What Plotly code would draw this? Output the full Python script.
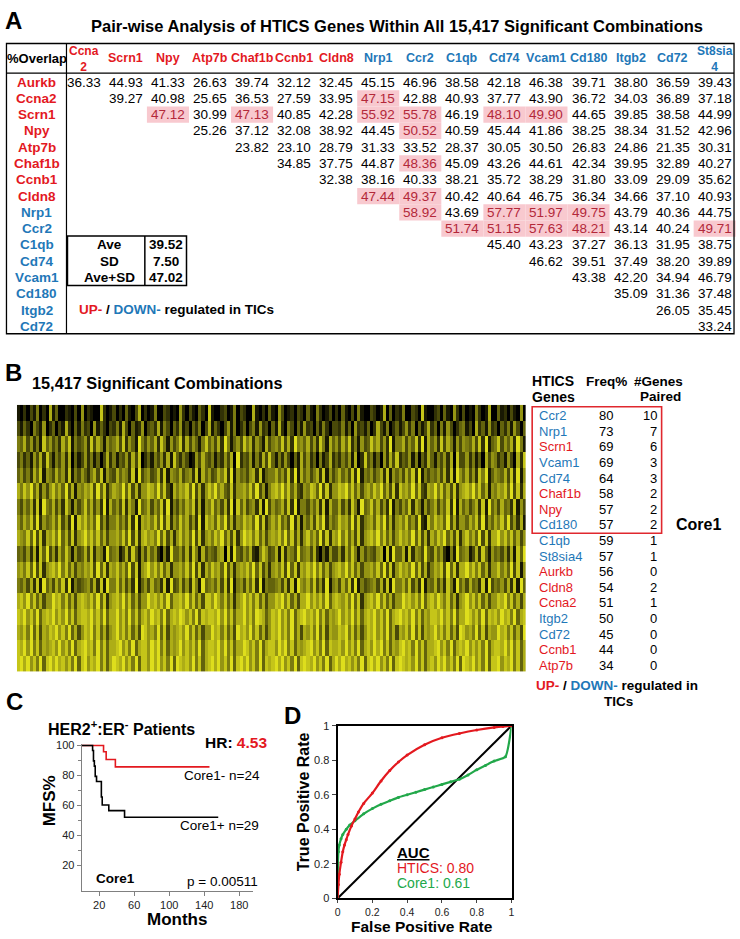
import plotly.graph_objects as go

W, H = 740, 939
FONT = "Arial, 'Liberation Sans', Helvetica, sans-serif"
RED = "#e3191f"
BLUE = "#1f78b8"
GREEN = "#22a84a"
HL_BG = "#f8c9cf"
HL_TXT = "#b3283a"

# ---------------- Panel A data ----------------
up_genes = ["Aurkb", "Ccna2", "Scrn1", "Npy", "Atp7b", "Chaf1b", "Ccnb1", "Cldn8"]
row_genes = ["Aurkb", "Ccna2", "Scrn1", "Npy", "Atp7b", "Chaf1b", "Ccnb1", "Cldn8",
             "Nrp1", "Ccr2", "C1qb", "Cd74", "Vcam1", "Cd180", "Itgb2", "Cd72"]
col_genes = ["Ccna2", "Scrn1", "Npy", "Atp7b", "Chaf1b", "Ccnb1", "Cldn8", "Nrp1",
             "Ccr2", "C1qb", "Cd74", "Vcam1", "Cd180", "Itgb2", "Cd72", "St8sia4"]
overlap_rows = [
    [36.33, 44.93, 41.33, 26.63, 39.74, 32.12, 32.45, 45.15, 46.96, 38.58, 42.18, 46.38, 39.71, 38.80, 36.59, 39.43],
    [39.27, 40.98, 25.65, 36.53, 27.59, 33.95, 47.15, 42.88, 40.93, 37.77, 43.90, 36.72, 34.03, 36.89, 37.18],
    [47.12, 30.99, 47.13, 40.85, 42.28, 55.92, 55.78, 46.19, 48.10, 49.90, 44.65, 39.85, 38.58, 44.99],
    [25.26, 37.12, 32.08, 38.92, 44.45, 50.52, 40.59, 45.44, 41.86, 38.25, 38.34, 31.52, 42.96],
    [23.82, 23.10, 28.79, 31.33, 33.52, 28.37, 30.05, 30.50, 26.83, 24.86, 21.35, 30.31],
    [34.85, 37.75, 44.87, 48.36, 45.09, 43.26, 44.61, 42.34, 39.95, 32.89, 40.27],
    [32.38, 38.16, 40.33, 38.21, 35.72, 38.29, 31.80, 33.09, 29.09, 35.62],
    [47.44, 49.37, 40.42, 40.64, 46.75, 36.34, 34.66, 37.10, 40.93],
    [58.92, 43.69, 57.77, 51.97, 49.75, 43.79, 40.36, 44.75],
    [51.74, 51.15, 57.63, 48.21, 43.14, 40.24, 49.71],
    [45.40, 43.23, 37.27, 36.13, 31.95, 38.75],
    [46.62, 39.51, 37.49, 38.20, 39.89],
    [43.38, 42.20, 34.94, 46.79],
    [35.09, 31.36, 37.48],
    [26.05, 35.45],
    [33.24],
]
stat_labels = ["Ave", "SD", "Ave+SD"]
stat_values = [39.52, 7.50, 47.02]

# ---------------- Panel B data ----------------
b_genes = ["Ccr2", "Nrp1", "Scrn1", "Vcam1", "Cd74", "Chaf1b", "Npy", "Cd180", "C1qb",
           "St8sia4", "Aurkb", "Cldn8", "Ccna2", "Itgb2", "Cd72", "Ccnb1", "Atp7b"]
b_freq = [80, 73, 69, 69, 64, 58, 57, 57, 59, 57, 56, 54, 51, 50, 45, 44, 34]
b_paired = [10, 7, 6, 3, 3, 2, 2, 2, 1, 1, 0, 2, 1, 0, 0, 0, 0]
core1_count = 8

# heatmap intensity levels (0-9), one string per row
heat_rows = [
    "1020315020 7140021030 6021008201 3020410370 2015003201 0620310420 8100230150 3200710204 1063012032 0410520130 2041030510 0320170402 1500320810 0230410620 3010520170 0412031060",
    "3142053160 2403172041 5230614203 2517304126 0342715304 2613042503 7142036150 2403516230 4172053041 6230415203 3251406231 4027315024 1362504137 2405163024 5130724162 3042516304",
    "5473625184 6352748153 4628375164 5738264195 3647285163 5827364158 4637295146 3857264173 5648372956 4736285174 6374825163 4857362915 5736482917 4628375163 6547382914 5836472951",
    "3524163728 4153627041 3625140372 5143627380 2415362718 4253016374 3514263709 2436152738 4152630417 3624051372 4253617028 3514062738 2436150427 4153627083 3625140736 5241630728",
    "4635274816 5374628153 6425738164 3746528193 5634728165 4735628174 6347582916 4536728145 5746382917 4635728163 5746382915 4635728164 6374829153 5463728196 4736285914 6547382916",
    "7586947263 6857493716 5768394825 7659483726 6875948317 5768493726 8695743826 6758493615 7869584732 6587493826 6879584736 7586947382 8675948327 6958473826 7869584716 5768493827",
    "5364728195 4736285163 5847362917 4638275194 5736482915 3647582716 5846372918 4735628193 6457382915 5364728174 4736285194 5847362915 3648275163 5736482917 4635728194 6374528163",
    "6475839264 5748362918 6857493625 5746382917 6758493826 4857362918 6748593726 5867493825 7584639271 6473859264 5867493825 6748593726 7584639218 5867493726 6475839264 7584936271",
    "7658493827 6859473826 7968584736 6758493827 8675948372 6857493826 7586947382 6978584736 7685948372 6857493827 6958473826 7869584736 8675948372 7586947382 6857493827 7968584736",
    "4536271849 3627485163 4738265194 5613728416 3746205194 4637285173 5436708194 3647215863 4718265394 5637204163 3627485163 5436708194 4718265394 3746205194 5613728416 4536271849",
    "6758493826 7869584736 5768394827 6857493816 7968584726 6758493827 5867493726 7685948362 6758394827 6869584736 7869584736 6758493826 8675948372 5768394827 7968584726 6857493816",
    "5463728194 6374829153 4563728195 5847362914 6374528193 4736285194 5647382915 6374829154 4563728196 5748362915 6374829153 4563728195 5748362915 4736285194 6374528193 5463728194",
    "7869584736 6978584737 8768594826 7869584736 6978685947 7869584738 8697584726 7968584736 6879584737 7968685947 8768594826 7869584736 6978685947 8697584726 7968584736 6879584737",
    "8796859478 7968695847 8879685947 7968595847 8697859478 7986859487 8879695847 7968598746 8796859478 9786958476 7968695847 8796859478 9786958476 8879685947 7986859487 8697859478",
    "7685948376 8796859473 6879584736 7968584739 8675948376 7869584736 6978584739 7869584736 8796859473 7685948376 6879584736 8796859473 7685948376 7968584739 8675948376 6978584739",
    "8796958476 7869685947 8978595847 7896859478 8697958476 7968685947 8879695847 7986859478 8697958476 7896859487 7869685947 8697958476 8978595847 7896859478 7968685947 8879695847",
    "8979685948 9797868594 8968795847 9879685948 8697968594 9878695847 8979685948 9796859487 8979685948 9879685947 9797868594 8979685948 9878695847 8697968594 9879685948 8968795847",
]

# ---------------- Panel C data (Kaplan-Meier) ----------------
km_neg_months = [0, 25, 28, 38.5, 146]
km_neg_mfs = [100, 95.8, 90.6, 85.7, 85.7]
km_pos_months = [0, 12.5, 13.5, 14.5, 15.5, 17, 22.5, 23.5, 31, 49, 156]
km_pos_mfs = [100, 96.6, 89.7, 86.2, 79.3, 75.9, 65.5, 60.2, 56.4, 52.0, 52.0]

# ---------------- Panel D data (ROC) ----------------
roc_htics_fpr = [0, 0.005, 0.01, 0.02, 0.03, 0.04, 0.05, 0.06, 0.08, 0.1, 0.12, 0.15, 0.2,
                 0.25, 0.3, 0.35, 0.4, 0.5, 0.6, 0.7, 0.8, 0.9, 0.95, 1.0]
roc_htics_tpr = [0, 0.08, 0.14, 0.21, 0.27, 0.31, 0.34, 0.37, 0.42, 0.46, 0.50, 0.55, 0.61,
                 0.68, 0.74, 0.79, 0.83, 0.89, 0.93, 0.955, 0.975, 0.99, 0.995, 1.0]
roc_core1_fpr = [0, 0.002, 0.005, 0.01, 0.02, 0.03, 0.05, 0.07, 0.1, 0.15, 0.2, 0.25, 0.3, 0.35,
                 0.4, 0.45, 0.5, 0.55, 0.6, 0.65, 0.7, 0.75, 0.8, 0.85, 0.9, 0.965, 1.0]
roc_core1_tpr = [0, 0.2, 0.27, 0.31, 0.345, 0.37, 0.40, 0.425, 0.45, 0.49, 0.52, 0.545, 0.565, 0.585,
                 0.60, 0.615, 0.63, 0.645, 0.66, 0.675, 0.69, 0.715, 0.745, 0.77, 0.795, 0.82, 1.0]
auc_htics = 0.80
auc_core1 = 0.61


# ---------------- helpers ----------------
def X(p):
    return p / W


def Y(p):
    return 1 - p / H


annotations = []
shapes = []


def ann(x, y, text, size, color="black", bold=False, xanchor="center", angle=0):
    annotations.append(dict(
        x=X(x), y=Y(y), xref="paper", yref="paper",
        text=f"<b>{text}</b>" if bold else text, showarrow=False,
        font=dict(family=FONT, size=size, color=color),
        xanchor=xanchor, yanchor="middle", textangle=angle))


def rect(x0, y0, x1, y1, line_color="black", width=1.2, fill=None, layer="above"):
    shapes.append(dict(type="rect", xref="paper", yref="paper",
                       x0=X(x0), x1=X(x1), y0=Y(y1), y1=Y(y0),
                       line=dict(color=line_color, width=width) if width else dict(width=0),
                       fillcolor=fill, layer=layer))


def hline(x0, x1, y, width=1.2, color="black"):
    shapes.append(dict(type="line", xref="paper", yref="paper",
                       x0=X(x0), x1=X(x1), y0=Y(y), y1=Y(y),
                       line=dict(color=color, width=width)))


def vline(x, y0, y1, width=1.2, color="black"):
    shapes.append(dict(type="line", xref="paper", yref="paper",
                       x0=X(x), x1=X(x), y0=Y(y0), y1=Y(y1),
                       line=dict(color=color, width=width)))


def gene_color(g):
    return RED if g in up_genes else BLUE


# ---------------- Panel A ----------------
ann(11, 15, "A", 24, bold=True)
ann(397.5, 20, "Pair-wise Analysis of HTICS Genes Within All 15,417 Significant Combinations", 16.5, bold=True)

rect(3.5, 38, 737, 332, width=1.3)
hline(3.5, 737, 68)
vline(64, 38, 332)

ann(34, 53, "%Overlap", 13, bold=True)
col_x0, col_dx = 81.5, 42.4
row_y0, row_dy = 77, 16.5
wrap = {"Ccna2": "Ccna<br>2", "St8sia4": "St8sia<br>4"}
for j, g in enumerate(col_genes):
    cx = col_x0 + col_dx * j
    if g in wrap:
        ann(cx, 54, wrap[g], 12, gene_color(g), bold=True)
    else:
        ann(cx, 53, g, 12.5, gene_color(g), bold=True)

for i, g in enumerate(row_genes):
    ry = row_y0 + row_dy * i
    ann(34, ry, g, 13.5, gene_color(g), bold=True)
    for k, v in enumerate(overlap_rows[i]):
        j = i + k
        cx = col_x0 + col_dx * j
        hot = v > stat_values[2]
        if hot:
            rect(cx - col_dx / 2, ry - 8.2, cx + col_dx / 2, ry + 8.2, width=0, fill=HL_BG, layer="below")
        ann(cx, ry, f"{v:.2f}", 13.5, HL_TXT if hot else "black")

# stats box
rect(65, 233, 185, 283, width=1.5)
vline(143, 233, 283, width=1.5)
for k, (lab, val) in enumerate(zip(stat_labels, stat_values)):
    ry = 242 + 16.5 * k
    ann(107, ry, lab, 13.5, bold=True)
    ann(164, ry, f"{val:.2f}", 13.5, bold=True)

ann(75, 307, f'<span style="color:{RED}">UP-</span> / <span style="color:{BLUE}">DOWN-</span> regulated in TICs',
    13.5, bold=True, xanchor="left")

# ---------------- Panel B ----------------
ann(11, 371, "B", 24, bold=True)
ann(27, 382, "15,417 Significant Combinations", 16.3, bold=True, xanchor="left")

rows_clean = [r.replace(" ", "") for r in heat_rows]
ncol = min(len(r) for r in rows_clean)
z = [[int(c) for c in r[:ncol]] for r in rows_clean]

ann(531, 380, "HTICS", 14, bold=True, xanchor="left")
ann(531, 396, "Genes", 14, bold=True, xanchor="left")
ann(608, 380, "Freq%", 13.5, bold=True)
ann(661, 380, "#Genes", 13.5, bold=True)
ann(663, 396, "Paired", 13.5, bold=True)
b_y0, b_dy = 415, 15.8
for i, (g, f, p) in enumerate(zip(b_genes, b_freq, b_paired)):
    ry = b_y0 + b_dy * i
    ann(538, ry, g, 13, gene_color(g), xanchor="left")
    ann(608, ry, str(f), 13)
    ann(661, ry, str(p), 13, xanchor="right")
rect(533.5, 406, 664, b_y0 + b_dy * (core1_count - 1) + 8.5, line_color="#e0282e", width=1.6)
ann(701, 525, "Core1", 16, bold=True)
ann(619, 688, f'<span style="color:{RED}">UP-</span> / <span style="color:{BLUE}">DOWN-</span> regulated in',
    13.5, bold=True)
ann(621, 704, "TICs", 13.5, bold=True)

# ---------------- Panel C ----------------
ann(12, 705, "C", 24, bold=True)
ann(43, 731, "HER2<sup>+</sup>:ER<sup>-</sup> Patients", 16, bold=True, xanchor="left")
ann(202, 746, f'HR: <span style="color:{RED}">4.53</span>', 15.5, bold=True, xanchor="left")
ann(180, 779, "Core1- n=24", 13.5, xanchor="left")
ann(176, 830, "Core1+ n=29", 13.5, xanchor="left")
ann(92, 884, "Core1", 13.5, bold=True, xanchor="left")
ann(183, 887, "p = 0.00511", 13.5, xanchor="left")
ann(47, 805, "MFS%", 17, bold=True, angle=-90)
ann(175, 925, "Months", 17, bold=True)

# ---------------- Panel D ----------------
ann(292, 719, "D", 24, bold=True)
ann(395, 857, "<u>AUC</u>", 15, bold=True, xanchor="left")
ann(395, 873, f"HTICS: {auc_htics:.2f}", 14, RED, xanchor="left")
ann(395, 888, f"Core1: {auc_core1:.2f}", 14, GREEN, xanchor="left")
ann(303, 806, "True Positive Rate", 16, bold=True, angle=-90)
ann(422, 932.5, "False Positive Rate", 15.5, bold=True)

# ---------------- traces ----------------
fig = go.Figure()
fig.add_trace(go.Heatmap(z=z, xaxis="x", yaxis="y", zmin=0, zmax=9, showscale=False,
                         colorscale=[[0, "#000000"], [1, "#dede1c"]], hoverinfo="skip"))

fig.add_trace(go.Scatter(x=km_neg_months, y=km_neg_mfs, xaxis="x2", yaxis="y2", mode="lines",
                         line=dict(color=RED, width=1.6, shape="hv"), cliponaxis=False))
fig.add_trace(go.Scatter(x=km_pos_months, y=km_pos_mfs, xaxis="x2", yaxis="y2", mode="lines",
                         line=dict(color="black", width=1.6, shape="hv"), cliponaxis=False))

fig.add_trace(go.Scatter(x=[0, 1], y=[0, 1], xaxis="x3", yaxis="y3", mode="lines",
                         line=dict(color="black", width=2), cliponaxis=False))
fig.add_trace(go.Scatter(x=roc_core1_fpr, y=roc_core1_tpr, xaxis="x3", yaxis="y3", mode="lines+markers",
                         line=dict(color=GREEN, width=2.2, shape="spline", smoothing=0.5),
                         marker=dict(size=3, color=GREEN), cliponaxis=False))
fig.add_trace(go.Scatter(x=roc_htics_fpr, y=roc_htics_tpr, xaxis="x3", yaxis="y3", mode="lines+markers",
                         line=dict(color=RED, width=2.2, shape="spline", smoothing=0.6),
                         marker=dict(size=3, color=RED), cliponaxis=False))

tickfont = dict(family=FONT, size=11, color="#222")
fig.update_layout(
    width=W, height=H, autosize=False,
    margin=dict(l=0, r=0, t=0, b=0),
    paper_bgcolor="white", plot_bgcolor="white",
    showlegend=False,
    annotations=annotations, shapes=shapes,
    xaxis=dict(domain=[X(14), X(527)], range=[-0.5, ncol - 0.5], visible=False, anchor="y"),
    yaxis=dict(domain=[Y(674), Y(404)], autorange="reversed", visible=False, anchor="x"),
    xaxis2=dict(domain=[X(79.3), X(252.3)], range=[0, 196], anchor="y2",
                showline=True, linecolor="#808080", linewidth=1, ticks="outside", ticklen=4,
                tickcolor="#808080", tickvals=[20, 60, 100, 140, 180], tickfont=tickfont,
                showgrid=False, zeroline=False),
    yaxis2=dict(domain=[Y(896), Y(747.5)], range=[3, 101], anchor="x2",
                showline=True, linecolor="#808080", linewidth=1, ticks="outside", ticklen=4,
                tickcolor="#808080", tickvals=[20, 40, 60, 80, 100], tickfont=tickfont,
                minor=dict(ticks="outside", ticklen=3, tickcolor="#808080", tickvals=[30, 50, 70, 90]),
                showgrid=False, zeroline=False),
    xaxis3=dict(domain=[X(337.3), X(512.7)], range=[0, 1], anchor="y3",
                showline=True, mirror=True, linecolor="black", linewidth=2, ticks="outside", ticklen=3,
                tickvals=[0, 0.2, 0.4, 0.6, 0.8, 1], ticktext=["0", "0.2", "0.4", "0.6", "0.8", "1"],
                tickfont=dict(family=FONT, size=10.5, color="#222"), showgrid=False, zeroline=False),
    yaxis3=dict(domain=[Y(904), Y(729)], range=[0, 1], anchor="x3",
                showline=True, mirror=True, linecolor="black", linewidth=2, ticks="outside", ticklen=4,
                tickvals=[0, 0.2, 0.4, 0.6, 0.8, 1], ticktext=["0", "0.2", "0.4", "0.6", "0.8", "1"],
                tickfont=tickfont, showgrid=False, zeroline=False),
)

fig.write_html("out.html", config={"displayModeBar": False},
               post_script="document.body.style.margin='0';document.body.style.overflow='hidden';")
